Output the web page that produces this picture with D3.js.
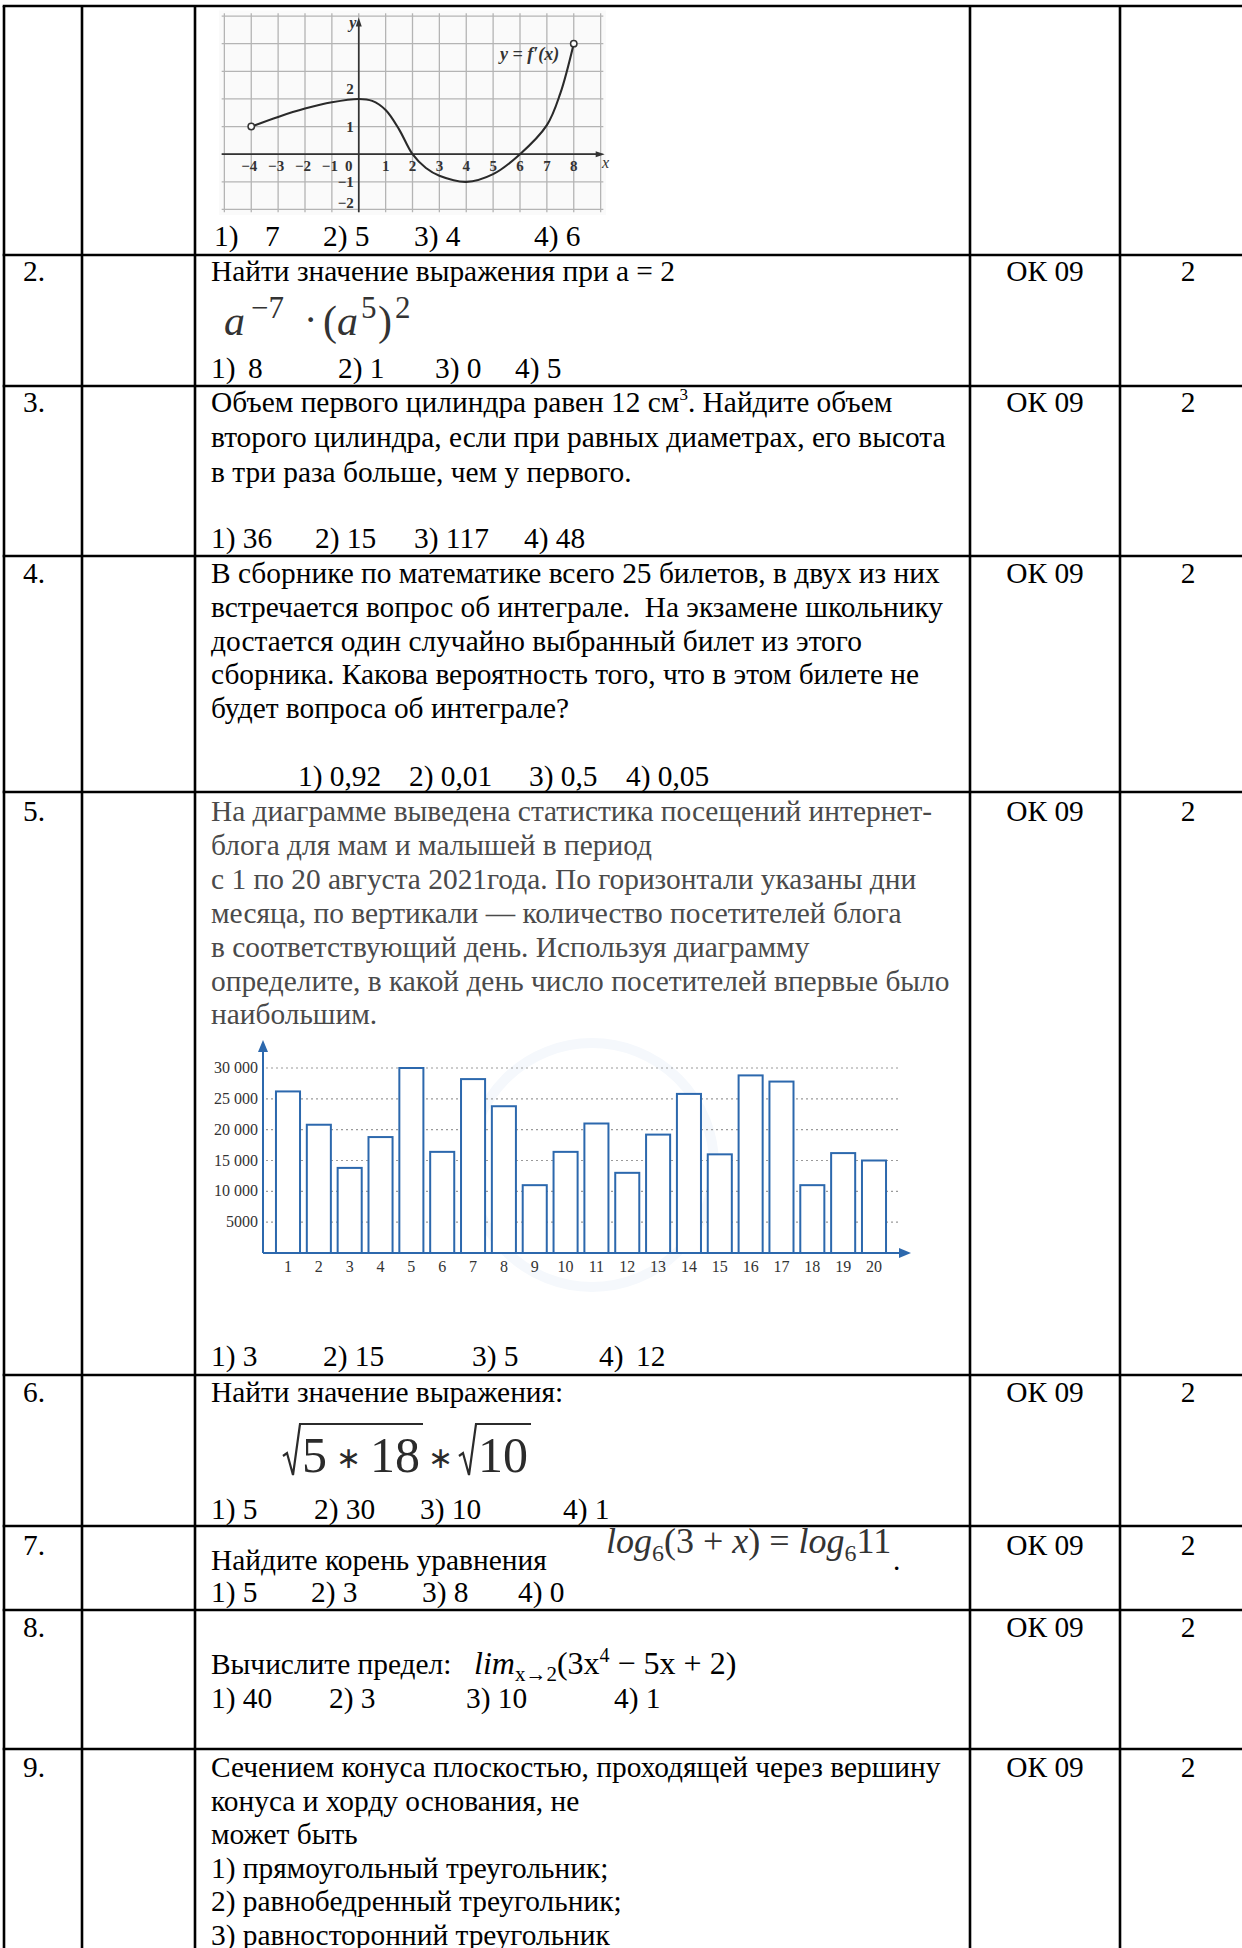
<!DOCTYPE html>
<html><head><meta charset="utf-8">
<script src="https://cdn.jsdelivr.net/npm/d3@7"></script>
<style>body{margin:0;background:#fff}svg{display:block}text{white-space:pre}</style>
</head><body>
<svg id="c" width="1242" height="1948"></svg>
<script>
// ---------- DATA ----------
const days = ["1","2","3","4","5","6","7","8","9","10","11","12","13","14","15","16","17","18","19","20"];
const visitors = [26200,20800,13800,18800,30000,16400,28200,23800,11000,16400,21000,13000,19200,25800,16000,28800,27800,11000,16200,15000];
const visitorTicks = [5000,10000,15000,20000,25000,30000];
const visitorTickLabels = ["5000","10 000","15 000","20 000","25 000","30 000"];

const derivX = [-4,-3,-2,-1,0,0.5,1,1.5,2,2.5,3,4,5,6,7,7.5,8];
const derivY = [1,1.35,1.65,1.88,2,1.93,1.6,0.9,0,-0.5,-0.78,-1,-0.72,0,1.05,2.2,4];
const graphXTicks = [-4,-3,-2,-1,0,1,2,3,4,5,6,7,8];
const graphXTickLabels = ["−4","−3","−2","−1","0","1","2","3","4","5","6","7","8"];
const graphYTicks = [-2,-1,1,2];
const graphYTickLabels = ["−2","−1","1","2"];

const qNumbers = ["2.","3.","4.","5.","6.","7.","8.","9."];
const qCodes = ["ОК 09","ОК 09","ОК 09","ОК 09","ОК 09","ОК 09","ОК 09","ОК 09"];
const qPoints = ["2","2","2","2","2","2","2","2"];

const q3Lines = ["второго цилиндра, если при равных диаметрах, его высота","в три раза больше, чем у первого."];
const q4Lines = ["В сборнике по математике всего 25 билетов, в двух из них","встречается вопрос об интеграле.  На экзамене школьнику","достается один случайно выбранный билет из этого","сборника. Какова вероятность того, что в этом билете не","будет вопроса об интеграле?"];
const q5Lines = ["На диаграмме выведена статистика посещений интернет-","блога для мам и малышей в период","с 1 по 20 августа 2021года. По горизонтали указаны дни","месяца, по вертикали — количество посетителей блога","в соответствующий день. Используя диаграмму","определите, в какой день число посетителей впервые было","наибольшим."];
const q9Lines = ["Сечением конуса плоскостью, проходящей через вершину","конуса и хорду основания, не","может быть","1) прямоугольный треугольник;","2) равнобедренный треугольник;","3) равносторонний треугольник"];

const ans1 = ["1)","7","2) 5","3) 4","4) 6"];
const ans2 = ["1)","8","2) 1","3) 0","4) 5"];
const ans3 = ["1) 36","2) 15","3) 117","4) 48"];
const ans4 = ["1) 0,92","2) 0,01","3) 0,5","4) 0,05"];
const ans5 = ["1) 3","2) 15","3) 5","4)","12"];
const ans6 = ["1) 5","2) 30","3) 10","4) 1"];
const ans7 = ["1) 5","2) 3","3) 8","4) 0"];
const ans8 = ["1) 40","2) 3","3) 10","4) 1"];

// ---------- LAYOUT ----------
const svg = d3.select("#c");
const F = "'Liberation Serif','Times New Roman',serif";
const FS = 29.4;
const colX = [4, 82, 195, 970, 1120, 1256];
const rowY = [6, 255, 386, 556, 792, 1375, 1526, 1610, 1749];

function T(x, y, s, o = {}) {
  return svg.append("text").attr("x", x).attr("y", y).text(s)
    .style("font-family", o.family || F).style("font-size", (o.size || FS) + "px")
    .style("font-style", o.italic ? "italic" : "normal")
    .style("font-weight", o.bold ? "bold" : "normal")
    .attr("fill", o.fill || "#000").attr("text-anchor", o.anchor || "start");
}
function rich(x, y, parts, o = {}) {
  const t = svg.append("text").attr("x", x).attr("y", y)
    .style("font-family", o.family || F).style("font-size", (o.size || FS) + "px")
    .attr("fill", o.fill || "#000");
  let shift = 0;
  parts.forEach(p => {
    const target = p.shift || 0;
    const ts = t.append("tspan").attr("dy", target - shift).text(p.t);
    if (p.dx) ts.attr("dx", p.dx);
    if (p.size) ts.style("font-size", p.size + "px");
    if (p.italic) ts.style("font-style", "italic");
    shift = target;
  });
  return t;
}
function place(items, xs, y, o) { items.forEach((s, i) => T(xs[i], y, s, o)); }

// ---------- TABLE GRID ----------
const grid = svg.append("g").attr("stroke", "#000").attr("stroke-width", 2.6);
colX.forEach(x => grid.append("line").attr("x1", x).attr("x2", x).attr("y1", rowY[0]).attr("y2", 1948));
rowY.forEach(y => grid.append("line").attr("x1", colX[0] - 1.3).attr("x2", 1260).attr("y1", y).attr("y2", y));

const rowBase = [281, 412, 583, 821, 1402, 1555, 1637, 1777];
qNumbers.forEach((n, i) => {
  T(23, rowBase[i], n);
  T((colX[3] + colX[4]) / 2, rowBase[i], qCodes[i], {anchor: "middle"});
  T((colX[4] + colX[5]) / 2, rowBase[i], qPoints[i], {anchor: "middle"});
});

// ---------- ROW 1: derivative graph ----------
const gx = d3.scaleLinear().domain([-5.2, 9.2]).range([219, 606]);
const gy = d3.scaleLinear().domain([-2.2, 5.2]).range([215, 10.5]);
const gg = svg.append("g");
gg.append("rect").attr("x", gx(-5.2)).attr("y", gy(5.2)).attr("width", gx(9.2) - gx(-5.2)).attr("height", gy(-2.2) - gy(5.2)).attr("fill", "#fafafa");
d3.range(-5, 10).forEach(v => gg.append("line").attr("x1", gx(v)).attr("x2", gx(v)).attr("y1", gy(5.1)).attr("y2", gy(-2.1)).attr("stroke", "#b4b4b4").attr("stroke-width", 1.3));
d3.range(-2, 6).forEach(v => gg.append("line").attr("x1", gx(-5.1)).attr("x2", gx(9.1)).attr("y1", gy(v)).attr("y2", gy(v)).attr("stroke", "#b4b4b4").attr("stroke-width", 1.3));
gg.append("line").attr("x1", gx(-5.1)).attr("x2", gx(9.0)).attr("y1", gy(0)).attr("y2", gy(0)).attr("stroke", "#333").attr("stroke-width", 1.7);
gg.append("line").attr("x1", gx(0)).attr("x2", gx(0)).attr("y1", gy(-2.1)).attr("y2", gy(4.8)).attr("stroke", "#333").attr("stroke-width", 1.7);
gg.append("path").attr("d", `M${gx(9.15)},${gy(0)} l-9,-3 l0,6 z`).attr("fill", "#333");
gg.append("path").attr("d", `M${gx(0)},${gy(4.95)} l-3,9 l6,0 z`).attr("fill", "#333");
const pts = derivX.map((x, i) => [x, derivY[i]]);
gg.append("path").datum(pts).attr("d", d3.line().x(d => gx(d[0])).y(d => gy(d[1])).curve(d3.curveCatmullRom.alpha(0.5)))
  .attr("fill", "none").attr("stroke", "#2a2a2a").attr("stroke-width", 2.1);
[pts[0], pts[pts.length - 1]].forEach(p => gg.append("circle").attr("cx", gx(p[0])).attr("cy", gy(p[1])).attr("r", 3.2).attr("fill", "#fff").attr("stroke", "#333").attr("stroke-width", 1.5));
graphXTicks.forEach((v, i) => T(v === 0 ? gx(0) - 10 : gx(v) + (v < 0 ? -2 : 0), 171, graphXTickLabels[i], {size: 15, bold: true, anchor: "middle", fill: "#333"}));
graphYTicks.forEach((v, i) => T(gx(0) - 5, gy(v) + (v === 2 ? -5 : v === -2 ? -1 : 5), graphYTickLabels[i], {size: 15, bold: true, anchor: "end", fill: "#333"}));
T(gx(9.05), 168, "x", {size: 16, italic: true, fill: "#333"});
T(gx(0) - 6, 28, "y", {size: 16, italic: true, bold: true, anchor: "middle", fill: "#333"});
T(500, 60, "y = f′(x)", {size: 18, italic: true, bold: true, fill: "#333"});
place(ans1, [214, 265, 323, 414, 534], 246);

// ---------- ROW 2 ----------
T(211, 281, "Найти значение выражения при а = 2");
(function () {
  const b = 335, sb = 318, c = "#333";
  const o = {size: 42, fill: c};
  const so = {size: 31, fill: c};
  T(224, b, "a", Object.assign({}, o, {italic: true}));
  T(251, sb, "−7", so);
  T(304, b - 2, "·", {size: 40, fill: c});
  T(323, b, "(", o);
  T(337, b, "a", Object.assign({}, o, {italic: true}));
  T(361, sb, "5", so);
  T(378, b, ")", o);
  T(395, sb, "2", so);
})();
place(ans2, [211, 248, 338, 435, 515], 378);

// ---------- ROW 3 ----------
rich(211, 412, [{t: "Объем первого цилиндра равен 12 см"}, {t: "3", size: 17, shift: -12}, {t: ". Найдите объем"}]);
q3Lines.forEach((s, i) => T(211, 447 + i * 34.5, s));
place(ans3, [211, 315, 414, 524], 548);

// ---------- ROW 4 ----------
q4Lines.forEach((s, i) => T(211, 583 + i * 33.8, s));
place(ans4, [298, 409, 529, 626], 786);

// ---------- ROW 5: text + bar chart ----------
q5Lines.forEach((s, i) => T(211, 821 + i * 33.9, s, {fill: "#4a4a4a"}));
const bx = d3.scalePoint().domain(days).range([288, 874]);
const by = d3.scaleLinear().domain([0, 30000]).range([1253, 1068]);
const bw = bx.step() * 0.78;
const blue = "#2c68ad";
const bc = svg.append("g");
bc.append("circle").attr("cx", 592).attr("cy", 1165).attr("r", 122).attr("fill", "none").attr("stroke", "#f5f8fc").attr("stroke-width", 10);
visitorTicks.forEach(v => bc.append("line").attr("x1", 266).attr("x2", 898).attr("y1", by(v)).attr("y2", by(v))
  .attr("stroke", "#9a9a9a").attr("stroke-width", 1.2).attr("stroke-dasharray", "2,3"));
bc.selectAll("rect.bar").data(visitors).join("rect").attr("class", "bar")
  .attr("x", (d, i) => bx(days[i]) - bw / 2).attr("y", d => by(d)).attr("width", bw).attr("height", d => by(0) - by(d))
  .attr("fill", "#fff").attr("stroke", blue).attr("stroke-width", 2);
bc.append("line").attr("x1", 263).attr("x2", 902).attr("y1", by(0)).attr("y2", by(0)).attr("stroke", blue).attr("stroke-width", 2);
bc.append("line").attr("x1", 263).attr("x2", 263).attr("y1", by(0)).attr("y2", 1050).attr("stroke", blue).attr("stroke-width", 2);
bc.append("path").attr("d", `M911,${by(0)} l-12,-5 l0,10 z`).attr("fill", blue);
bc.append("path").attr("d", `M263,1040 l-5,12 l10,0 z`).attr("fill", blue);
visitorTicks.forEach((v, i) => T(258, by(v) + 5, visitorTickLabels[i], {size: 16, anchor: "end", fill: "#333"}));
days.forEach(d => T(bx(d), 1272, d, {size: 16, anchor: "middle", fill: "#333"}));
place(ans5, [211, 323, 472, 599, 636], 1366);

// ---------- ROW 6 ----------
T(211, 1402, "Найти значение выражения:");
(function () {
  const base = 1472, s = 50, col = "#2b2b2b", top = base - 45;
  function radical(x, w) {
    svg.append("path").attr("d", `M${x},${base - 16} l4,-3 l6,22 l7,${-(base + 6 - top)} l${w},0`)
      .attr("fill", "none").attr("stroke", col).attr("stroke-width", 2.2);
  }
  const r1 = 283;
  const t1 = rich(r1 + 19, base, [{t: "5"}, {t: "∗", size: 30, dx: 9, shift: -4}, {t: "18", dx: 9}], {size: s, fill: col});
  const w1 = t1.node().getBBox().width;
  radical(r1, w1 + 5);
  const starX = r1 + 19 + w1 + 8;
  const st = T(starX, base - 4, "∗", {size: 30, fill: col});
  const r2 = starX + st.node().getBBox().width + 6;
  const t2 = T(r2 + 19, base, "10", {size: s, fill: col});
  radical(r2, t2.node().getBBox().width + 5);
})();
place(ans6, [211, 314, 420, 563], 1519);

// ---------- ROW 7 ----------
T(211, 1570, "Найдите корень уравнения");
rich(606, 1553, [
  {t: "log", italic: true}, {t: "6", size: 24, shift: 8}, {t: "(3 + "}, {t: "x", italic: true}, {t: ") = "},
  {t: "log", italic: true}, {t: "6", size: 24, shift: 8}, {t: "11"}
], {size: 36, fill: "#333"});
T(893, 1570, ".");
place(ans7, [211, 311, 422, 518], 1602);

// ---------- ROW 8 ----------
T(211, 1674, "Вычислите предел:");
rich(474, 1674, [
  {t: "lim", italic: true}, {t: "x→2", size: 21, shift: 7}, {t: "(3x"}, {t: "4", size: 20, shift: -12}, {t: " − 5x + 2)"}
], {size: 32});
place(ans8, [211, 329, 466, 614], 1708);

// ---------- ROW 9 ----------
q9Lines.forEach((s, i) => T(211, 1777 + i * 33.6, s));
</script>
</body></html>
